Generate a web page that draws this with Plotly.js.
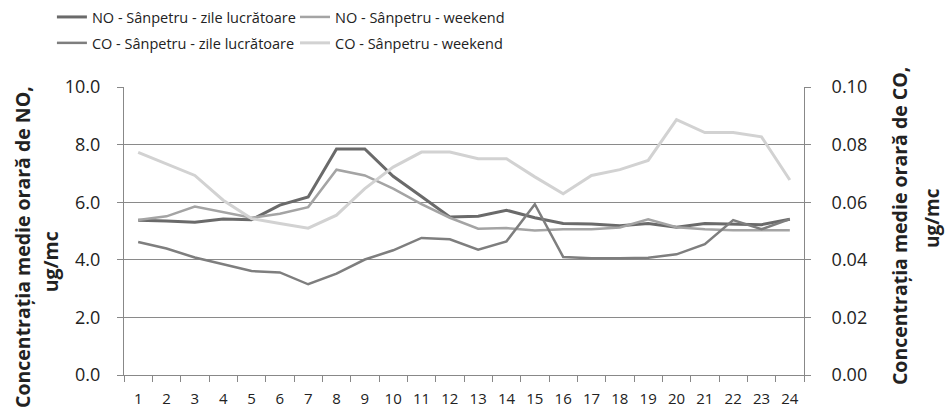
<!DOCTYPE html>
<html><head><meta charset="utf-8">
<script src="https://cdn.plot.ly/plotly-3.0.1.min.js"></script>
<style>html,body{margin:0;padding:0;background:#fff;}#chart{width:946px;height:410px;}</style>
</head><body><div id="chart"></div>
<script>
const hours = ["1","2","3","4","5","6","7","8","9","10","11","12","13","14","15","16","17","18","19","20","21","22","23","24"];
const noWorkdays = [5.37,5.35,5.30,5.42,5.39,5.90,6.18,7.85,7.85,6.90,6.20,5.49,5.51,5.72,5.46,5.26,5.24,5.18,5.26,5.13,5.26,5.24,5.22,5.41];
const noWeekend  = [5.38,5.51,5.85,5.66,5.46,5.60,5.83,7.13,6.93,6.47,5.93,5.46,5.08,5.10,5.02,5.06,5.06,5.12,5.41,5.13,5.06,5.03,5.03,5.03];
const coWorkdays = [0.0462,0.0439,0.0408,0.0384,0.0361,0.0356,0.0315,0.0352,0.0401,0.0433,0.0476,0.0471,0.0435,0.0464,0.0593,0.0410,0.0405,0.0405,0.0407,0.0419,0.0454,0.0538,0.0506,0.0541];
const coWeekend  = [0.0773,0.0734,0.0693,0.0607,0.0543,0.0526,0.0510,0.0555,0.0647,0.0722,0.0774,0.0774,0.0751,0.0751,0.0688,0.0629,0.0693,0.0713,0.0745,0.0887,0.0842,0.0842,0.0827,0.0677];
const names = ["NO - Sânpetru - zile lucrătoare","NO - Sânpetru - weekend","CO - Sânpetru - zile lucrătoare","CO - Sânpetru - weekend"];

const FONT = "Open Sans, Roboto, sans-serif";
const traces = [
  {x:hours, y:noWorkdays, name:names[0], type:"scatter", mode:"lines", line:{color:"#6a6a6a", width:3}, legend:"legend"},
  {x:hours, y:noWeekend,  name:names[1], type:"scatter", mode:"lines", line:{color:"#a4a4a4", width:2.5}, legend:"legend2"},
  {x:hours, y:coWorkdays, name:names[2], type:"scatter", mode:"lines", line:{color:"#7e7e7e", width:2.5}, yaxis:"y2", legend:"legend3"},
  {x:hours, y:coWeekend,  name:names[3], type:"scatter", mode:"lines", line:{color:"#d2d2d2", width:3}, yaxis:"y2", legend:"legend4"}
];
const legBase = {orientation:"v", yanchor:"middle", xanchor:"left", font:{family:FONT, size:14.5, color:"#222"}, tracegroupgap:0, itemwidth:30, bgcolor:"rgba(0,0,0,0)"};
const layout = {
  width:946, height:410,
  margin:{l:124, r:142, t:87, b:35, pad:0, autoexpand:false},
  paper_bgcolor:"#fff", plot_bgcolor:"#fff",
  font:{family:FONT, color:"#222"},
  showlegend:true,
  legend: Object.assign({}, legBase, {x:-0.106, y:1.243}),
  legend2:Object.assign({}, legBase, {x:0.2515, y:1.243}),
  legend3:Object.assign({}, legBase, {x:-0.106, y:1.153}),
  legend4:Object.assign({}, legBase, {x:0.2515, y:1.153}),
  xaxis:{type:"category", range:[-0.5,23.5], showline:true, linecolor:"#888", linewidth:1, ticks:"outside", tickson:"boundaries", ticklen:6, tickcolor:"#888", showgrid:false, tickfont:{size:15, family:FONT, color:"#222"}, ticklabelstandoff:10},
  yaxis:{range:[0,10], dtick:2, tickformat:".1f", showline:true, linecolor:"#888", ticks:"outside", ticklen:6, tickcolor:"#888", gridcolor:"#8a8a8a", gridwidth:1, zeroline:false, tickfont:{size:18, family:FONT, color:"#222"}, ticklabelstandoff:13},
  yaxis2:{range:[0,0.1], dtick:0.02, tickformat:".2f", overlaying:"y", side:"right", showline:true, linecolor:"#888", ticks:"outside", ticklen:6, tickcolor:"#888", showgrid:false, zeroline:false, tickfont:{size:18, family:FONT, color:"#222"}, ticklabelstandoff:17},
  annotations:[
    {text:"<b>Concentrația medie orară de NO,</b>", xref:"paper", yref:"paper", x:-0.11, y:0.445, xanchor:"center", yanchor:"middle", showarrow:false, textangle:-90, xshift:-26, font:{family:FONT, size:19.5, color:"#222"}},
    {text:"<b>ug/mc</b>", xref:"paper", yref:"paper", x:-0.11, y:0.392, xanchor:"center", yanchor:"middle", showarrow:false, textangle:-90, xshift:1, font:{family:FONT, size:19.5, color:"#222"}},
    {text:"<b>Concentrația medie orară de CO,</b>", xref:"paper", yref:"paper", x:1.0, y:0.517, xanchor:"center", yanchor:"middle", showarrow:false, textangle:-90, xshift:95, font:{family:FONT, size:19.5, color:"#222"}},
    {text:"<b>ug/mc</b>", xref:"paper", yref:"paper", x:1.0, y:0.545, xanchor:"center", yanchor:"middle", showarrow:false, textangle:-90, xshift:128, font:{family:FONT, size:19, color:"#222"}}
  ]
};
Plotly.newPlot("chart", traces, layout, {displayModeBar:false, staticPlot:true});
</script></body></html>
